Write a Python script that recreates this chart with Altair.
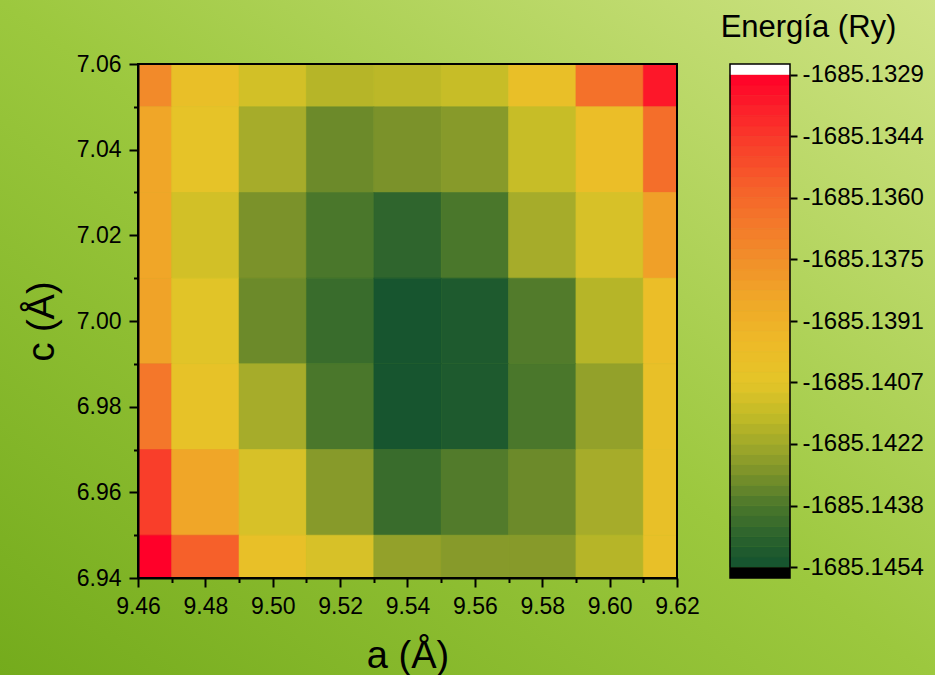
import altair as alt
import pandas as pd

# Lattice parameters (cell centres) and total energies on the (a, c) grid
a_values = [9.46, 9.48, 9.50, 9.52, 9.54, 9.56, 9.58, 9.60, 9.62]
c_values = [7.06, 7.04, 7.02, 7.00, 6.98, 6.96, 6.94]
energy = [
    [-1685.13736, -1685.14011, -1685.14111, -1685.14174, -1685.14161, -1685.14136, -1685.14011, -1685.13636, -1685.13349],
    [-1685.13849, -1685.14049, -1685.14211, -1685.14324, -1685.14299, -1685.14274, -1685.14136, -1685.13999, -1685.13624],
    [-1685.13849, -1685.14111, -1685.14299, -1685.14380, -1685.14449, -1685.14380, -1685.14211, -1685.14099, -1685.13824],
    [-1685.13836, -1685.14074, -1685.14324, -1685.14424, -1685.14524, -1685.14499, -1685.14367, -1685.14174, -1685.13999],
    [-1685.13661, -1685.14036, -1685.14211, -1685.14380, -1685.14524, -1685.14499, -1685.14380, -1685.14249, -1685.14024],
    [-1685.13461, -1685.13849, -1685.14099, -1685.14274, -1685.14424, -1685.14367, -1685.14324, -1685.14211, -1685.14024],
    [-1685.13286, -1685.13574, -1685.14024, -1685.14099, -1685.14249, -1685.14274, -1685.14274, -1685.14174, -1685.14024],
]

minor_a = [9.47, 9.49, 9.51, 9.53, 9.55, 9.57, 9.59, 9.61]
minor_c = [6.95, 6.97, 6.99, 7.01, 7.03, 7.05]
major_c = [6.94, 6.96, 6.98, 7.00, 7.02, 7.04, 7.06]

# Colour bar: range, levels and tick values
E_MIN = -1685.14536
E_MAX = -1685.13286
N_LEVELS = 48
cbar_ticks = [-1685.14536, -1685.14380, -1685.14223, -1685.14067, -1685.13911,
              -1685.13754, -1685.13598, -1685.13442, -1685.13286]

# Colour map: green -> olive -> yellow -> orange -> red
cmap_pos = [0, 0.06, 0.125, 0.19, 0.25, 0.31, 0.375, 0.45, 0.55, 0.64, 0.75, 0.875, 1]
cmap_col = ['#13522f', '#2a622d', '#4a772b', '#7b922a', '#a0a92a', '#c2bb27', '#e4c528',
            '#edbb28', '#f0a628', '#f28a2a', '#f5682a', '#f9382a', '#ff0029']

W, H = 539, 514
PAD = {"left": 138, "top": 64, "right": 258, "bottom": 97}
HALF = 0.01
SPAN = E_MAX - E_MIN
CAP = 0.00027

rows = []
for ci, c in enumerate(c_values):
    for ai, a in enumerate(a_values):
        rows.append({
            "a_lo": max(a - HALF, a_values[0]), "a_hi": min(a + HALF, a_values[-1]),
            "c_lo": max(c - HALF, min(c_values)), "c_hi": min(c + HALF, max(c_values)),
            "E": energy[ci][ai],
        })
heat_df = pd.DataFrame(rows)

step = SPAN / N_LEVELS
band_df = pd.DataFrame({
    "lo": [E_MIN + k * step for k in range(N_LEVELS)],
    "hi": [E_MIN + (k + 1) * step for k in range(N_LEVELS)],
    "E": [E_MIN + (k + 0.5) * step for k in range(N_LEVELS)],
})
cap_top = pd.DataFrame({"lo": [E_MAX], "hi": [E_MAX + CAP]})
cap_bot = pd.DataFrame({"lo": [E_MIN - CAP], "hi": [E_MIN]})
one = pd.DataFrame({"a": [9.54], "c": [7.00]})

x_scale = alt.Scale(domain=[a_values[0], a_values[-1]], nice=False, zero=False)
y_scale = alt.Scale(domain=[min(c_values), max(c_values)], nice=False, zero=False)
cb_scale = alt.Scale(domain=[E_MIN - CAP, E_MAX + CAP], nice=False, zero=False)
color_scale = alt.Scale(domain=[E_MIN + p * SPAN for p in cmap_pos], range=cmap_col,
                        interpolate="rgb")

background = alt.Chart(one).mark_rect(
    color=alt.LinearGradient(
        gradient="linear",
        stops=[alt.GradientStop(color="#74ab1c", offset=0),
               alt.GradientStop(color="#9cc83e", offset=0.5),
               alt.GradientStop(color="#cfe385", offset=1)],
        x1=0, y1=1, x2=1, y2=0,
    )
).encode(
    x=alt.value(-PAD["left"]), x2=alt.value(W + PAD["right"]),
    y=alt.value(-PAD["top"]), y2=alt.value(H + PAD["bottom"]),
)

heat = alt.Chart(heat_df).mark_rect(strokeWidth=0.6).encode(
    x=alt.X("a_lo:Q", scale=x_scale,
            axis=alt.Axis(orient="bottom", values=a_values, format=".2f", title="a (Å)",
                          tickSize=9, labelPadding=8, titlePadding=19, zindex=2)),
    x2="a_hi:Q",
    y=alt.Y("c_lo:Q", scale=y_scale,
            axis=alt.Axis(orient="left", values=major_c, format=".2f", title="c (Å)",
                          tickSize=9, labelPadding=8, titlePadding=15, zindex=2)),
    y2="c_hi:Q",
    color=alt.Color("E:Q", scale=color_scale, legend=None),
    stroke=alt.Stroke("E:Q", scale=color_scale, legend=None),
)

minor = alt.Chart(one).mark_point(opacity=0).encode(
    x=alt.X("a:Q", scale=x_scale,
            axis=alt.Axis(orient="bottom", values=minor_a, labels=False, domain=False,
                          tickSize=4.5, title=None, zindex=2)),
    y=alt.Y("c:Q", scale=y_scale,
            axis=alt.Axis(orient="left", values=minor_c, labels=False, domain=False,
                          tickSize=4.5, title=None, zindex=2)),
)

frame = alt.Chart(one).mark_rect(fillOpacity=0, stroke="black", strokeWidth=2).encode(
    x=alt.value(0), x2=alt.value("width"), y=alt.value(0), y2=alt.value("height"),
)

CB_X0, CB_X1 = 592, 652

bands = alt.Chart(band_df).mark_rect(strokeWidth=0.6).encode(
    x=alt.value(CB_X0), x2=alt.value(CB_X1),
    y=alt.Y("lo:Q", scale=cb_scale,
            axis=alt.Axis(orient="right", offset=CB_X1 - W, values=cbar_ticks,
                          labelExpr="'-' + format(abs(datum.value), '.4f')",
                          domain=False, tickSize=7, labelPadding=5, labelFontSize=24,
                          title="Energía (Ry)", titleAngle=0, titleAlign="center",
                          titleBaseline="alphabetic", titleX=18, titleY=-28,
                          titleFontSize=31, zindex=2)),
    y2="hi:Q",
    color=alt.Color("E:Q", scale=color_scale, legend=None),
    stroke=alt.Stroke("E:Q", scale=color_scale, legend=None),
)

top_cap = alt.Chart(cap_top).mark_rect(color="white").encode(
    x=alt.value(CB_X0), x2=alt.value(CB_X1),
    y=alt.Y("lo:Q", scale=cb_scale, axis=None), y2="hi:Q",
)
bottom_cap = alt.Chart(cap_bot).mark_rect(color="black").encode(
    x=alt.value(CB_X0), x2=alt.value(CB_X1),
    y=alt.Y("lo:Q", scale=cb_scale, axis=None), y2="hi:Q",
)
cb_frame = alt.Chart(one).mark_rect(fillOpacity=0, stroke="black", strokeWidth=1.5).encode(
    x=alt.value(CB_X0), x2=alt.value(CB_X1), y=alt.value(0), y2=alt.value("height"),
)

chart = alt.layer(
    background, heat, minor, frame, bands, top_cap, bottom_cap, cb_frame
).resolve_scale(
    y="independent"
).resolve_axis(
    x="independent", y="independent"
).properties(
    width=W, height=H,
    autosize=alt.AutoSizeParams(type="none"),
    padding=PAD,
).configure(
    font="Liberation Sans",
).configure_view(
    stroke="transparent",
).configure_axis(
    grid=False,
    labelFont="Liberation Sans", titleFont="Liberation Sans",
    labelColor="black", titleColor="black", tickColor="black", domainColor="black",
    labelFontSize=23, titleFontSize=38, titleFontWeight="normal",
    tickWidth=2, domainWidth=2,
    labelFlush=False, labelOverlap=False,
)

chart.save("out.html", embed_options={"renderer": "svg", "actions": False})
